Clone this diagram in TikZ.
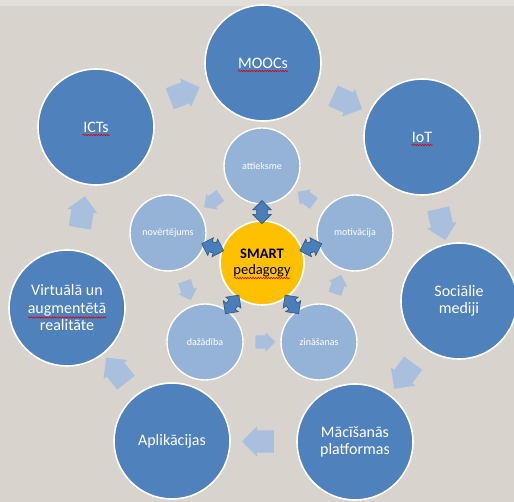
\documentclass[tikz,border=0pt]{standalone}
\usepackage{fontspec}
\setmainfont{Carlito}
\usetikzlibrary{shapes.arrows,calc,decorations.pathmorphing}
\definecolor{bg}{RGB}{216,211,205}
\definecolor{bgtop}{RGB}{226,223,219}
\definecolor{outerc}{RGB}{79,129,189}
\definecolor{innerc}{RGB}{149,179,215}
\definecolor{centc}{RGB}{255,192,0}
\definecolor{arrowc}{RGB}{169,191,222}
\definecolor{darr}{RGB}{74,126,187}
\definecolor{darrb}{RGB}{44,84,130}
\tikzset{
 outer/.style={circle, fill=outerc, draw=white, line width=1.6pt, minimum size=116pt, inner sep=0pt, text=white, font=\fontsize{16}{17.5}\selectfont, align=center},
 inner/.style={circle, fill=innerc, draw=white, line width=1.4pt, minimum size=76pt, inner sep=0pt, text=white, font=\fontsize{10}{11}\selectfont},
 centre/.style={circle, fill=centc, draw=white, line width=1.6pt, minimum size=84pt, inner sep=0pt, align=center, font=\fontsize{14.5}{16.5}\selectfont},
 outarrow/.style={single arrow, fill=arrowc, minimum height=32pt, inner xsep=0pt, inner ysep=11pt, single arrow head extend=4pt, sloped, allow upside down},
 inarrow/.style={single arrow, fill=arrowc, minimum height=20pt, inner xsep=0pt, inner ysep=6.5pt, single arrow head extend=3pt, sloped, allow upside down},
 dblarrow/.style={double arrow, fill=darr, draw=darrb, line width=0.6pt, minimum height=23pt, inner xsep=0pt, inner ysep=5pt, double arrow head extend=4pt, sloped, allow upside down},
 spell/.style={draw=red!85!black, line width=0.6pt, decorate, decoration={snake, amplitude=0.7pt, segment length=2.6pt}},
}
\begin{document}
\begin{tikzpicture}[x=1pt,y=-1pt]
\useasboundingbox (0,0) rectangle (514,502);
\fill[bg] (0,0) rectangle (514,502);
\fill[bgtop] (0,0) rectangle (514,6);
% outer ring
\node[outer] (moocs) at (263,63) {MOOCs};
\node[outer] (iot) at (422,137) {IoT};
\node[outer] (soc) at (459,301) {Sociālie\\mediji};
\node[outer] (mac) at (355,442) {Mācīšanās\\platformas};
\node[outer] (apl) at (172,441) {Aplikācijas};
\node[outer] (vir) at (67,308) {Virtuālā un\\augmentētā\\realitāte};
\node[outer] (ict) at (96,127) {ICTs};
% spelling marks
\path[spell] ([shift={(-25,8)}]moocs.center) -- ++(50,0);
\path[spell] ([shift={(-10.5,8)}]iot.center) -- ++(21,0);
\path[spell] ([shift={(-13.5,8)}]ict.center) -- ++(27,0);
\path[spell] ([shift={(-39,9.5)}]vir.center) -- ++(78,0);
% outer arrows
\path (ict) -- node[outarrow]{} (moocs);
\path (moocs) -- node[outarrow]{} (iot);
\path (iot) -- node[outarrow]{} (soc);
\path (soc) -- node[outarrow]{} (mac);
\path (mac) -- node[outarrow]{} (apl);
\path (apl) -- node[outarrow]{} (vir);
\path (vir) -- node[outarrow]{} (ict);
% inner ring
\node[inner] (att) at (262,166) {attieksme};
\node[inner] (nov) at (168,233) {novērtējums};
\node[inner] (mot) at (355,233) {motivācija};
\node[inner] (daz) at (205,342) {dažādība};
\node[inner] (zin) at (319,342) {zināšanas};
% inner arrows
\path (att) -- node[inarrow]{} (nov);
\path (nov) -- node[inarrow]{} (daz);
\path (daz) -- node[inarrow]{} (zin);
\path (zin) -- node[inarrow]{} (mot);
\path (mot) -- node[inarrow]{} (att);
% centre
\node[centre] (c) at (262,263) {\textbf{SMART}\\pedagogy};
\path[spell] ([shift={(-28,15)}]c.center) -- ++(56,0);
% double arrows
\path (c) -- node[pos=0.52, dblarrow]{} (att);
\path (c) -- node[pos=0.52, dblarrow]{} (nov);
\path (c) -- node[pos=0.52, dblarrow]{} (mot);
\path (c) -- node[pos=0.52, dblarrow]{} (daz);
\path (c) -- node[pos=0.52, dblarrow]{} (zin);
\end{tikzpicture}
\end{document}
